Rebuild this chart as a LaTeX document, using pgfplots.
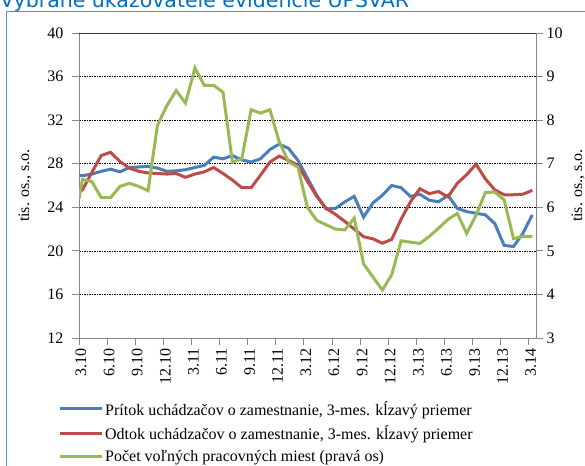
\documentclass[border=0pt]{standalone}
\usepackage{fontspec}
\setmainfont{Liberation Serif}
\newfontfamily\titlefont{DejaVu Sans}
\usepackage{pgfplots}
\usepackage{pgfplotstable}
\pgfplotsset{compat=1.18}

\definecolor{blueline}{RGB}{74,126,187}
\definecolor{redline}{RGB}{190,75,72}
\definecolor{greenline}{RGB}{152,185,84}
\definecolor{framecol}{RGB}{84,141,212}
\definecolor{titlecol}{RGB}{0,112,192}
\definecolor{axisgray}{RGB}{134,134,134}

% m = month position (0 = 3.10), first row is where the line enters the plot
\pgfplotstableread{
m pritok odtok pocet
0 26.9 25.4 6.2
0.37 26.9 25.6 6.64
1.37 27.05 27.2 6.59
2.37 27.3 28.75 6.22
3.37 27.5 29.05 6.22
4.37 27.25 28.2 6.48
5.37 27.65 27.6 6.55
6.37 27.7 27.3 6.48
7.37 27.75 27.15 6.38
8.37 27.6 27.1 7.88
9.37 27.3 27.05 8.33
10.37 27.35 27.1 8.68
11.37 27.45 26.75 8.39
12.37 27.65 27.05 9.2
13.37 27.85 27.25 8.8
14.37 28.6 27.65 8.8
15.37 28.45 27.1 8.64
16.37 28.75 26.5 7.04
17.37 28.35 25.8 7.11
18.37 28.15 25.8 8.24
19.37 28.45 26.95 8.16
20.37 29.3 28.15 8.24
21.37 29.8 28.7 7.5
22.37 29.4 28.3 7.04
23.37 28.3 27.85 6.92
24.37 26.7 26.4 6.0
25.37 25.1 25.0 5.7
26.37 23.85 23.9 5.6
27.37 23.9 23.35 5.5
28.37 24.5 22.7 5.48
29.37 25.0 22.0 5.75
30.37 23.1 21.3 4.7
31.37 24.4 21.1 4.4
32.37 25.1 20.7 4.1
33.37 26.0 21.05 4.45
34.37 25.8 22.9 5.23
35.37 25.0 24.5 5.2
36.37 25.2 25.7 5.17
37.37 24.65 25.25 5.33
38.37 24.5 25.45 5.52
39.37 25.1 24.95 5.72
40.37 23.9 26.2 5.86
41.37 23.6 27.0 5.4
42.37 23.45 27.95 5.82
43.37 23.3 26.6 6.34
44.37 22.5 25.6 6.35
45.37 20.5 25.15 6.17
46.37 20.4 25.15 5.28
47.37 21.6 25.2 5.33
48.37 23.3 25.55 5.33
}\data

\pgfplotsset{
  base/.style={
    at={(79pt,127pt)}, anchor=south west,
    width=457pt, height=305pt, scale only axis,
    xmin=0, xmax=48.77,
    tick align=outside, major tick length=7pt,
    tick style={axisgray, line width=0.8pt},
    axis line style={axisgray, line width=0.8pt},
    /pgf/number format/assume math mode=true,
    tick label style={font=\fontsize{16}{16}\selectfont},
    label style={font=\fontsize{16}{16}\selectfont},
  },
}

\begin{document}
\begin{tikzpicture}[x=1pt,y=1pt]
\useasboundingbox (0,0) rectangle (585,465);
\node[anchor=base west, inner sep=0, font=\titlefont\fontsize{20.5}{24}\selectfont, text=titlecol]
  at (0,457.5) {Vybrané ukazovatele evidencie ÚPSVAR};
\draw[framecol, line width=1.3pt] (6.7,-5) -- (6.7,453.3) -- (600,453.3);

\begin{axis}[base,
  ymin=12, ymax=40, ytick={12,16,...,40},
  xtick={0,3,...,48},
  xticklabels={3.10,6.10,9.10,12.10,3.11,6.11,9.11,12.11,3.12,6.12,9.12,12.12,3.13,6.13,9.13,12.13,3.14},
  xtick pos=lower, ytick pos=left,
  x tick label style={rotate=90, anchor=east, yshift=-2pt},
  y tick label style={xshift=-5pt},
  ymajorgrids,
  grid style={black, line width=0.6pt, dash pattern=on 1.5pt off 1pt},
  ylabel={tis. os., s.o.},
  ylabel style={at={(axis description cs:-0.118,0.5)}, anchor=center},
]
\addplot[blueline, line width=3pt] table[x=m, y=pritok] {\data};
\addplot[redline, line width=3pt] table[x=m, y=odtok] {\data};
\draw[black!80, line width=0.8pt] (rel axis cs:0,1) -- (rel axis cs:1,1);
\end{axis}

\begin{axis}[base,
  ymin=3, ymax=10, ytick={3,...,10},
  axis y line*=right, hide x axis,
  ylabel={tis. os., s.o.},
  ylabel style={at={(axis description cs:1.092,0.5)}, anchor=center},
  legend style={at={(axis description cs:-0.046,-0.2)}, anchor=north west,
    draw=none, fill=none, inner sep=0pt, row sep=5pt,
    font=\fontsize{16}{16}\selectfont},
  legend cell align=left,
  legend image code/.code={\draw[#1] (0pt,0pt) -- (42pt,0pt);},
]
\addlegendimage{blueline, line width=3pt}
\addlegendentry{Prítok uchádzačov o zamestnanie, 3-mes. kĺzavý priemer}
\addlegendimage{redline, line width=3pt}
\addlegendentry{Odtok uchádzačov o zamestnanie, 3-mes. kĺzavý priemer}
\addplot[greenline, line width=3pt] table[x=m, y=pocet] {\data};
\addlegendentry{Počet voľných pracovných miest (pravá os)}
\end{axis}
\end{tikzpicture}
\end{document}
